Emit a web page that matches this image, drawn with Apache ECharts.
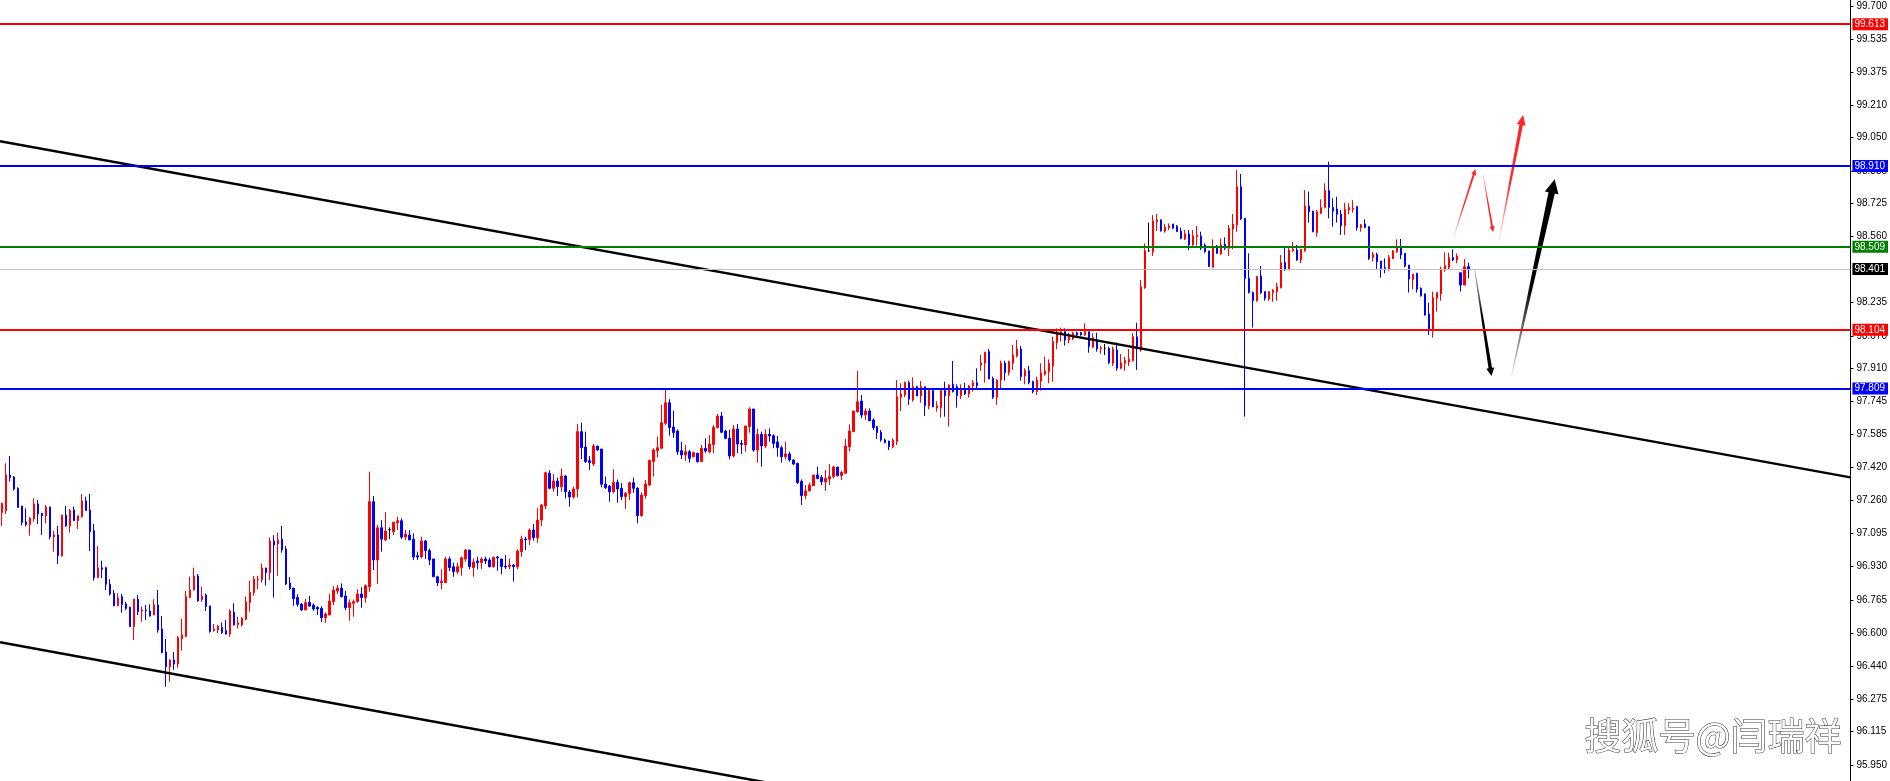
<!DOCTYPE html>
<html>
<head>
<meta charset="utf-8">
<script src="https://cdn.jsdelivr.net/npm/echarts@6.0.0/dist/echarts.min.js"></script>
<style>
  html, body { margin: 0; padding: 0; background: #ffffff; }
  #chart { width: 1890px; height: 781px; }
</style>
</head>
<body>
<div id="chart"></div>
<script>
// ---- data (bar index = position) ----
const open = [
97.197,97.207,97.383,97.373,97.317,97.230,97.151,97.138,97.166,97.240,97.194,97.181,97.225,97.077,97.087,96.983,97.185,97.131,97.210,97.157,
97.177,97.255,97.210,97.108,96.876,96.924,96.925,96.843,96.798,96.737,96.782,96.746,96.729,96.634,96.769,96.710,96.716,96.711,96.691,96.741,
96.622,96.509,96.436,96.469,96.449,96.573,96.584,96.777,96.815,96.884,96.766,96.790,96.736,96.614,96.617,96.630,96.614,96.597,96.705,96.644,
96.642,96.670,96.752,96.801,96.866,96.866,96.923,96.900,97.057,97.042,97.066,97.017,96.849,96.824,96.778,96.745,96.716,96.754,96.740,96.729,
96.724,96.678,96.691,96.757,96.810,96.824,96.785,96.727,96.749,96.757,96.795,96.777,96.831,97.251,96.963,97.122,97.062,97.113,97.103,97.147,
97.157,97.076,97.086,97.066,96.984,96.978,97.057,97.009,96.968,96.880,96.851,96.851,96.968,96.930,96.905,96.926,96.968,97.012,96.925,96.958,
96.950,96.968,96.963,96.930,96.978,96.968,96.933,96.930,96.938,96.930,97.004,97.067,97.065,97.111,97.073,97.160,97.230,97.391,97.317,97.353,
97.325,97.378,97.299,97.274,97.314,97.597,97.521,97.454,97.437,97.526,97.511,97.338,97.328,97.300,97.347,97.317,97.276,97.292,97.345,97.318,
97.182,97.281,97.333,97.449,97.503,97.515,97.638,97.740,97.620,97.600,97.503,97.482,97.498,97.473,97.490,97.449,97.515,97.498,97.533,97.617,
97.674,97.600,97.564,97.477,97.610,97.539,97.531,97.622,97.709,97.506,97.584,97.526,97.584,97.577,97.546,97.518,97.473,97.487,97.457,97.440,
97.351,97.281,97.304,97.330,97.383,97.371,97.350,97.363,97.375,97.422,97.380,97.391,97.523,97.597,97.696,97.748,97.679,97.699,97.655,97.622,
97.594,97.556,97.551,97.523,97.548,97.767,97.778,97.839,97.753,97.819,97.773,97.819,97.724,97.800,97.715,97.715,97.800,97.775,97.831,97.819,
97.775,97.806,97.783,97.823,97.839,97.926,97.935,97.992,97.860,97.767,97.852,97.935,97.888,97.935,97.971,98.005,97.872,97.898,97.844,97.795,
97.847,97.880,97.893,97.921,98.037,98.083,98.091,98.050,98.055,98.086,98.086,98.075,98.091,98.014,98.050,98.007,98.009,98.009,97.935,98.000,
97.910,97.935,97.941,97.948,98.066,98.000,98.308,98.490,98.486,98.634,98.643,98.588,98.605,98.623,98.610,98.588,98.549,98.574,98.519,98.560,
98.564,98.519,98.490,98.409,98.514,98.475,98.522,98.503,98.598,98.618,98.807,98.651,98.354,98.284,98.244,98.366,98.289,98.252,98.284,98.289,
98.308,98.432,98.396,98.490,98.494,98.445,98.490,98.712,98.687,98.580,98.676,98.705,98.788,98.705,98.697,98.672,98.615,98.692,98.695,98.709,
98.605,98.623,98.610,98.457,98.473,98.440,98.407,98.401,98.453,98.486,98.511,98.478,98.420,98.349,98.379,98.305,98.277,98.178,98.099,98.256,
98.277,98.396,98.409,98.457,98.445,98.382,98.321,98.412
];
const close = [
97.243,97.383,97.370,97.314,97.222,97.148,97.138,97.169,97.240,97.190,97.181,97.225,97.077,97.087,96.985,97.185,97.131,97.207,97.157,97.181,
97.255,97.207,97.103,96.876,96.924,96.917,96.843,96.795,96.737,96.775,96.742,96.723,96.634,96.770,96.708,96.716,96.713,96.686,96.741,96.617,
96.505,96.436,96.469,96.449,96.580,96.593,96.782,96.815,96.884,96.761,96.785,96.733,96.609,96.622,96.637,96.604,96.597,96.711,96.642,96.653,
96.675,96.756,96.803,96.869,96.869,96.923,96.900,97.057,97.037,97.062,97.012,96.844,96.821,96.772,96.744,96.716,96.752,96.735,96.721,96.721,
96.678,96.696,96.760,96.814,96.824,96.782,96.727,96.752,96.757,96.795,96.777,96.836,97.251,96.963,97.122,97.066,97.106,97.113,97.149,97.157,
97.076,97.091,97.062,96.978,96.978,97.057,97.009,96.963,96.880,96.851,96.859,96.968,96.925,96.905,96.930,96.974,97.012,96.930,96.953,96.950,
96.968,96.958,96.930,96.976,96.973,96.930,96.928,96.938,96.930,97.007,97.067,97.063,97.111,97.073,97.160,97.235,97.394,97.317,97.353,97.325,
97.378,97.300,97.274,97.314,97.597,97.518,97.449,97.444,97.526,97.506,97.337,97.320,97.300,97.347,97.314,97.276,97.292,97.345,97.317,97.182,
97.284,97.338,97.454,97.506,97.518,97.641,97.740,97.617,97.592,97.498,97.482,97.498,97.465,97.493,97.449,97.515,97.501,97.536,97.618,97.674,
97.594,97.564,97.477,97.610,97.536,97.534,97.625,97.709,97.506,97.584,97.526,97.584,97.576,97.539,97.518,97.473,97.487,97.457,97.437,97.345,
97.281,97.304,97.333,97.383,97.366,97.350,97.366,97.375,97.422,97.380,97.396,97.526,97.600,97.699,97.745,97.679,97.699,97.651,97.617,97.592,
97.556,97.543,97.523,97.556,97.770,97.783,97.841,97.757,97.819,97.773,97.819,97.725,97.800,97.720,97.724,97.800,97.775,97.827,97.795,97.775,
97.806,97.783,97.823,97.839,97.824,97.938,97.989,97.857,97.767,97.852,97.935,97.888,97.943,97.976,98.005,97.869,97.898,97.839,97.795,97.852,
97.888,97.897,97.935,98.042,98.086,98.091,98.050,98.063,98.083,98.075,98.075,98.091,98.017,98.061,98.005,98.012,98.009,97.938,98.004,97.910,
97.938,97.948,97.954,98.066,98.017,98.313,98.490,98.490,98.638,98.643,98.590,98.606,98.613,98.602,98.585,98.552,98.574,98.519,98.565,98.569,
98.503,98.486,98.412,98.511,98.478,98.519,98.503,98.602,98.623,98.807,98.648,98.354,98.284,98.244,98.363,98.284,98.256,98.289,98.297,98.313,
98.432,98.396,98.494,98.498,98.445,98.498,98.712,98.684,98.585,98.684,98.705,98.788,98.705,98.687,98.671,98.615,98.695,98.704,98.700,98.605,
98.618,98.606,98.453,98.473,98.437,98.404,98.404,98.457,98.490,98.511,98.470,98.415,98.351,98.376,98.300,98.269,98.173,98.099,98.259,98.284,
98.401,98.417,98.457,98.445,98.465,98.321,98.412,98.401
];
const low = [
97.131,97.190,97.350,97.306,97.222,97.133,97.128,97.083,97.153,97.141,97.087,97.144,97.065,97.004,96.942,96.980,97.128,97.098,97.156,97.116,
97.172,97.207,97.008,96.861,96.873,96.873,96.815,96.787,96.734,96.734,96.703,96.716,96.634,96.568,96.691,96.658,96.667,96.683,96.691,96.604,
96.502,96.337,96.362,96.420,96.430,96.515,96.584,96.774,96.812,96.757,96.757,96.711,96.604,96.609,96.601,96.597,96.594,96.584,96.639,96.625,
96.634,96.667,96.708,96.786,96.818,96.851,96.836,96.864,96.777,96.885,96.999,96.839,96.814,96.737,96.732,96.711,96.716,96.732,96.712,96.691,
96.656,96.653,96.691,96.740,96.795,96.777,96.716,96.663,96.683,96.752,96.727,96.752,96.806,96.913,96.844,97.004,97.057,97.066,97.086,97.111,
97.066,97.062,97.062,96.963,96.963,96.971,96.968,96.938,96.880,96.834,96.819,96.851,96.908,96.880,96.892,96.885,96.954,96.917,96.880,96.917,
96.918,96.943,96.926,96.925,96.910,96.892,96.918,96.917,96.856,96.917,96.979,97.012,97.037,97.058,97.048,97.131,97.215,97.312,97.300,97.279,
97.300,97.267,97.226,97.266,97.272,97.462,97.442,97.407,97.427,97.503,97.322,97.314,97.251,97.292,97.246,97.259,97.216,97.259,97.295,97.144,
97.177,97.267,97.328,97.375,97.470,97.510,97.630,97.577,97.567,97.482,97.462,97.452,97.444,97.470,97.444,97.449,97.493,97.490,97.490,97.613,
97.589,97.559,97.460,97.470,97.490,97.487,97.498,97.592,97.498,97.444,97.424,97.515,97.547,97.515,97.473,97.444,97.460,97.449,97.432,97.338,
97.235,97.264,97.304,97.328,97.361,97.333,97.304,97.333,97.366,97.375,97.358,97.388,97.501,97.597,97.691,97.663,97.655,97.650,97.605,97.561,
97.547,97.539,97.506,97.515,97.531,97.699,97.767,97.729,97.745,97.773,97.740,97.674,97.707,97.717,97.696,97.666,97.671,97.622,97.790,97.715,
97.758,97.778,97.765,97.795,97.811,97.898,97.839,97.857,97.758,97.729,97.803,97.849,97.874,97.902,97.964,97.849,97.831,97.831,97.786,97.778,
97.800,97.874,97.836,97.844,98.004,98.042,98.022,98.033,98.050,98.066,98.071,98.070,97.987,98.009,97.992,97.981,97.976,97.930,97.921,97.898,
97.905,97.898,97.921,97.943,97.902,97.992,98.303,98.486,98.465,98.588,98.585,98.580,98.593,98.597,98.585,98.547,98.544,98.494,98.516,98.516,
98.494,98.481,98.412,98.407,98.475,98.470,98.494,98.465,98.498,98.585,98.643,97.671,98.280,98.111,98.239,98.277,98.244,98.244,98.239,98.244,
98.305,98.392,98.396,98.486,98.442,98.429,98.486,98.630,98.582,98.560,98.672,98.700,98.651,98.610,98.630,98.569,98.569,98.671,98.679,98.590,
98.585,98.602,98.445,98.437,98.401,98.358,98.379,98.392,98.450,98.481,98.450,98.409,98.284,98.300,98.284,98.264,98.170,98.075,98.061,98.190,
98.244,98.387,98.399,98.440,98.429,98.289,98.321,98.354
];
const high = [
97.246,97.441,97.477,97.378,97.322,97.230,97.218,97.174,97.268,97.260,97.194,97.235,97.225,97.108,97.131,97.185,97.230,97.215,97.227,97.181,
97.289,97.276,97.289,97.141,97.032,96.960,96.930,96.868,96.815,96.798,96.795,96.757,96.733,96.770,96.790,96.733,96.741,96.744,96.769,96.815,
96.686,96.573,96.472,96.509,96.588,96.672,96.810,96.881,96.925,96.894,96.831,96.798,96.736,96.647,96.642,96.655,96.667,96.719,96.749,96.683,
96.680,96.782,96.861,96.884,96.885,96.946,96.925,97.075,97.086,97.099,97.131,97.032,96.879,96.824,96.793,96.749,96.770,96.785,96.749,96.735,
96.735,96.704,96.795,96.834,96.839,96.847,96.810,96.768,96.768,96.818,96.829,96.842,97.399,97.279,97.136,97.160,97.200,97.124,97.152,97.177,
97.169,97.111,97.111,97.094,97.004,97.078,97.062,97.019,96.968,96.885,96.917,96.979,96.979,96.950,96.950,96.979,97.017,97.012,96.971,96.979,
96.976,96.979,96.974,96.979,96.983,96.968,96.988,96.971,96.943,97.016,97.083,97.078,97.119,97.141,97.221,97.239,97.399,97.407,97.388,97.370,
97.414,97.383,97.309,97.325,97.635,97.641,97.597,97.477,97.536,97.526,97.511,97.375,97.333,97.412,97.361,97.342,97.300,97.350,97.370,97.322,
97.297,97.358,97.460,97.515,97.572,97.729,97.803,97.757,97.701,97.608,97.547,97.531,97.506,97.498,97.493,97.531,97.564,97.580,97.630,97.684,
97.694,97.605,97.605,97.630,97.635,97.556,97.625,97.717,97.709,97.613,97.597,97.608,97.613,97.584,97.576,97.528,97.546,97.498,97.460,97.444,
97.361,97.333,97.345,97.383,97.424,97.383,97.408,97.437,97.429,97.424,97.404,97.561,97.633,97.699,97.897,97.778,97.712,97.712,97.663,97.625,
97.605,97.564,97.552,97.564,97.852,97.836,97.844,97.849,97.865,97.824,97.847,97.819,97.811,97.803,97.748,97.803,97.844,97.831,97.946,97.831,
97.831,97.839,97.827,97.852,97.910,97.976,97.992,98.005,97.869,97.856,97.948,97.948,97.948,98.025,98.050,98.020,97.910,97.921,97.849,97.869,
97.935,97.967,97.954,98.066,98.107,98.111,98.107,98.086,98.091,98.091,98.091,98.132,98.091,98.083,98.086,98.020,98.030,98.017,98.017,98.037,
97.981,97.967,98.005,98.083,98.135,98.346,98.527,98.630,98.667,98.672,98.646,98.623,98.626,98.623,98.618,98.605,98.593,98.593,98.593,98.613,
98.585,98.527,98.490,98.547,98.519,98.552,98.557,98.618,98.672,98.890,98.870,98.651,98.478,98.289,98.366,98.415,98.289,98.289,98.300,98.333,
98.470,98.506,98.511,98.536,98.519,98.498,98.791,98.783,98.687,98.692,98.745,98.824,98.931,98.750,98.758,98.692,98.728,98.725,98.741,98.709,
98.623,98.646,98.610,98.486,98.481,98.440,98.453,98.470,98.494,98.547,98.549,98.478,98.420,98.376,98.382,98.310,98.280,98.234,98.289,98.284,
98.412,98.483,98.481,98.498,98.478,98.382,98.450,98.432
];
// bar slots on the time axis (data plus empty future space)
const slotCount = 463;
const categories = Array.from({ length: slotCount }, (_, i) => String(i));

// right-hand price scale labels
const tickLabels = [99.700, 99.535, 99.375, 99.210, 99.050, 98.885, 98.725, 98.560, 98.235, 98.070,
  97.910, 97.745, 97.585, 97.420, 97.260, 97.095, 96.930, 96.765, 96.600, 96.440, 96.275, 96.115, 95.950];

// horizontal price levels
const levelPrices = [99.613, 98.910, 98.509, 98.401, 98.104, 97.809];
const levelColors = ['#ff0000', '#0000ff', '#008000', '#c0c0c0', '#ff0000', '#0000ff'];
const levelLabelBg = ['#ff0000', '#0000ff', '#008000', '#000000', '#ff0000', '#0000ff'];
const levelWidths = [2, 2, 2, 1, 2, 2];

// trend lines: [barIndex, price] pairs
const upperTrend = [[-0.5, 99.032], [462.5, 97.371]];
const lowerTrend = [[-0.5, 96.557], [200, 95.832]];

// forecast arrows: [fromBar, fromPrice, toBar, toPrice]
const arrows = [
  [363.1, 98.552, 368.7, 98.895],
  [370.6, 98.865, 373.1, 98.582],
  [374.6, 98.544, 380.6, 99.161],
  [368.5, 98.396, 372.7, 97.872],
  [377.7, 97.872, 388.5, 98.844]
];
const arrowStyles = [
  { c0: 'rgba(255,60,60,0.15)', c1: 'rgba(255,40,40,1)', w0: 0.6, w1: 2.0, head: 6, hw: 2.6 },
  { c0: 'rgba(255,60,60,0.35)', c1: 'rgba(255,40,40,1)', w0: 0.6, w1: 2.0, head: 6, hw: 2.6 },
  { c0: 'rgba(255,60,60,0.1)', c1: 'rgba(255,40,40,1)', w0: 0.8, w1: 3.6, head: 10, hw: 4.5 },
  { c0: 'rgba(0,0,0,0.25)', c1: 'rgba(0,0,0,1)', w0: 0.8, w1: 3.6, head: 8, hw: 4 },
  { c0: 'rgba(0,0,0,0.1)', c1: 'rgba(0,0,0,1)', w0: 0.8, w1: 6.5, head: 14, hw: 7 }
];

const candleData = open.map((o, i) => [o, close[i], low[i], high[i]]);

const chart = echarts.init(document.getElementById('chart'), null, { renderer: 'canvas' });

function renderArrow(params, api) {
  const i = params.dataIndex;
  const st = arrowStyles[i];
  const a = api.coord([api.value(0), api.value(1)]);
  const b = api.coord([api.value(2), api.value(3)]);
  const dx = b[0] - a[0], dy = b[1] - a[1];
  const len = Math.hypot(dx, dy);
  const ux = dx / len, uy = dy / len;
  const nx = -uy, ny = ux;
  const bx = b[0] - ux * st.head, by = b[1] - uy * st.head;
  const pts = [
    [a[0] + nx * st.w0 / 2, a[1] + ny * st.w0 / 2],
    [bx + nx * st.w1 / 2, by + ny * st.w1 / 2],
    [bx + nx * st.hw, by + ny * st.hw],
    [b[0], b[1]],
    [bx - nx * st.hw, by - ny * st.hw],
    [bx - nx * st.w1 / 2, by - ny * st.w1 / 2],
    [a[0] - nx * st.w0 / 2, a[1] - ny * st.w0 / 2]
  ];
  return {
    type: 'polygon',
    shape: { points: pts },
    style: {
      fill: new echarts.graphic.LinearGradient(a[0], a[1], b[0], b[1], [
        { offset: 0, color: st.c0 },
        { offset: 0.45, color: st.c1 },
        { offset: 1, color: st.c1 }
      ], true)
    }
  };
}

const FONT = '"Liberation Sans", Arial, sans-serif';

const option = {
  animation: false,
  backgroundColor: '#ffffff',
  grid: { left: -1, right: 39, top: 0, bottom: 0, containLabel: false },
  xAxis: [
    {
      type: 'category', data: categories, boundaryGap: true,
      axisLine: { show: false, onZero: false }, axisTick: { show: false }, axisLabel: { show: false },
      splitLine: { show: false }
    },
    {
      type: 'value', min: -0.5, max: 462.5, show: false,
      axisLine: { show: false, onZero: false }, axisTick: { show: false },
      axisLabel: { show: false }, splitLine: { show: false }
    }
  ],
  yAxis: {
    type: 'value', position: 'right', min: 95.871, max: 99.7296, scale: true,
    axisLine: { show: true, onZero: false, lineStyle: { color: '#000', width: 1 } },
    axisTick: { show: true, length: 3, inside: false, lineStyle: { color: '#000' }, customValues: tickLabels },
    axisLabel: {
      show: true, customValues: tickLabels, margin: 6, color: '#000',
      fontSize: 10, fontFamily: FONT,
      formatter: (v) => Number(v).toFixed(3)
    },
    splitLine: { show: false }
  },
  graphic: [
    {
      type: 'text', left: 1584, top: 717, z: 100,
      style: {
        text: '搜狐号@闫瑞祥',
        font: '37px "Noto Sans CJK SC", sans-serif',
        fill: '#ffffff',
        textShadowColor: 'rgba(0,0,0,0.95)',
        textShadowOffsetX: 2, textShadowOffsetY: 2, textShadowBlur: 0,
        stroke: 'rgba(0,0,0,0.85)', lineWidth: 1
      }
    }
  ],
  series: [
    {
      type: 'candlestick',
      xAxisIndex: 0,
      data: candleData,
      barWidth: 2,
      z: 3,
      itemStyle: {
        color: '#ff0000', color0: '#0000ff',
        borderColor: '#ff0000', borderColor0: '#0000ff',
        borderColorDoji: '#000000', borderWidth: 1
      },
      markLine: {
        silent: true, symbol: ['none', 'none'], z: 10,
        data: levelPrices.map((p, i) => ({
          yAxis: p,
          lineStyle: { color: levelColors[i], width: levelWidths[i], type: 'solid' },
          label: {
            show: true, position: 'end', distance: 2,
            formatter: p.toFixed(3), color: '#ffffff',
            backgroundColor: levelLabelBg[i], padding: [1, 3, 1, 2],
            fontSize: 10, fontFamily: FONT, lineHeight: 10
          }
        }))
      }
    },
    {
      type: 'line', xAxisIndex: 1, data: upperTrend, symbol: 'none', silent: true, z: 4,
      lineStyle: { color: '#000000', width: 2.5 }
    },
    {
      type: 'line', xAxisIndex: 1, data: lowerTrend, symbol: 'none', silent: true, z: 4,
      lineStyle: { color: '#000000', width: 2.5 }
    },
    {
      type: 'custom', xAxisIndex: 1, data: arrows, renderItem: renderArrow, silent: true, z: 6,
      encode: { x: [0, 2], y: [1, 3] }
    }
  ]
};
chart.setOption(option);
</script>
</body>
</html>
